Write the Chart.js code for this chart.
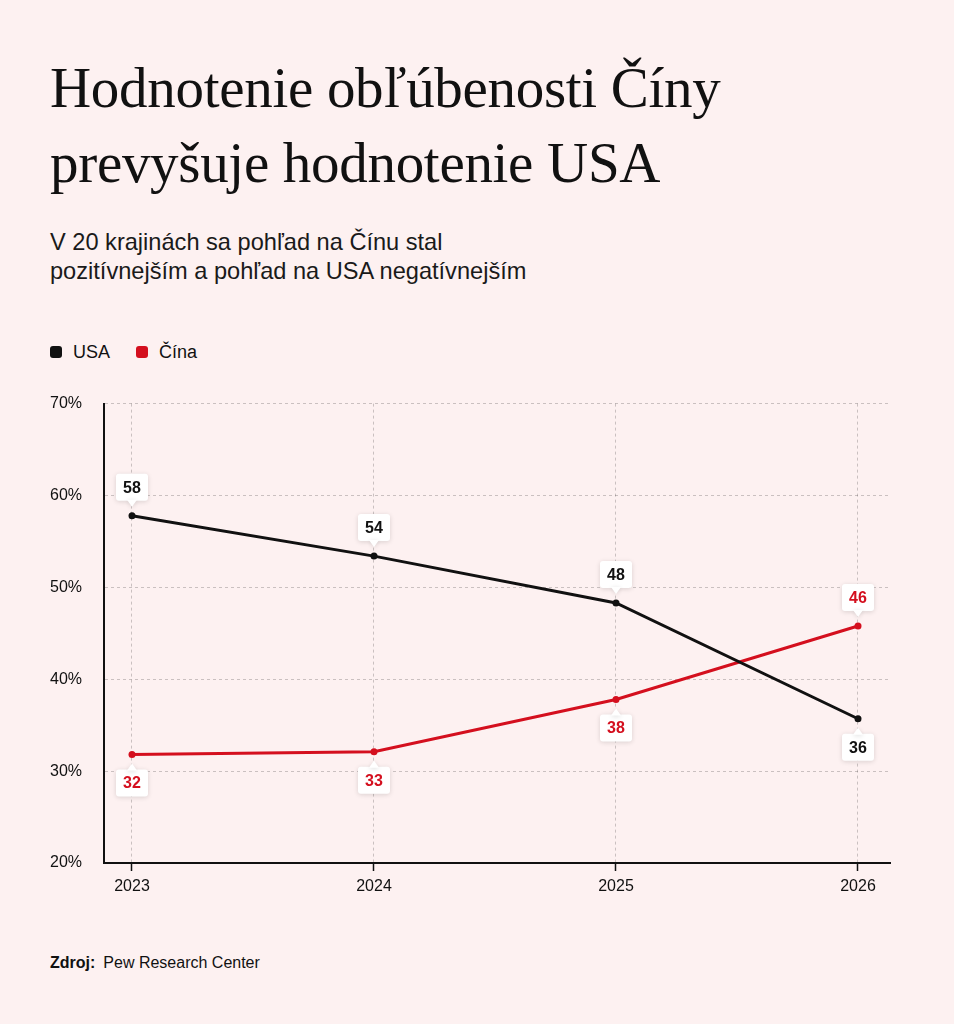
<!DOCTYPE html>
<html lang="sk">
<head>
<meta charset="utf-8">
<script src="https://cdn.jsdelivr.net/npm/chart.js@4.4.1/dist/chart.umd.min.js"></script>
<style>
  html, body { margin: 0; padding: 0; }
  body { width: 954px; height: 1024px; background: #fdf1f1; position: relative; overflow: hidden;
         font-family: "Liberation Sans", Arial, sans-serif; color: #111; }
  h1 { position: absolute; left: 50px; top: 50px; margin: 0; font-family: "Liberation Serif", "Times New Roman", serif;
       font-weight: normal; font-size: 57px; line-height: 75px; letter-spacing: -0.3px; color: #111; }
  .sub { position: absolute; left: 50px; top: 228px; margin: 0; font-size: 23.6px; line-height: 29px; color: #1a1a1a; }
  .legend { position: absolute; left: 50px; top: 340px; font-size: 18px; line-height: 24px; display: flex; }
  .legend span { display: flex; align-items: center; margin-right: 26px; }
  .legend i { width: 12px; height: 12px; border-radius: 3px; margin-right: 11px; display: inline-block; }
  .src { position: absolute; left: 50px; top: 953px; font-size: 16px; line-height: 20px; }
  .src b { margin-right: 8px; }
  #wrap { position: absolute; left: 0; top: 372px; width: 954px; height: 538px; }
</style>
</head>
<body>
<h1>Hodnotenie obľúbenosti Číny<br>prevyšuje hodnotenie USA</h1>
<p class="sub">V 20 krajinách sa pohľad na Čínu stal<br>pozitívnejším a pohľad na USA negatívnejším</p>
<div class="legend">
  <span><i style="background:#111"></i>USA</span>
  <span><i style="background:#d40f1e"></i>Čína</span>
</div>
<div id="wrap"><canvas id="chart" width="954" height="538"></canvas></div>
<div class="src"><b>Zdroj:</b>Pew Research Center</div>
<script>
const years = [2023, 2024, 2025, 2026];
const usaValues = [57.8, 53.4, 48.3, 35.7];
const chinaValues = [31.8, 32.1, 37.8, 45.8];
const usaLabels = ['58', '54', '48', '36'];
const chinaLabels = ['32', '33', '38', '46'];
const yTicks = [20, 30, 40, 50, 60, 70];

const BLACK = '#111111';
const RED = '#d40f1e';
const GRID = 'rgba(0,0,0,0.2)';

function roundRect(ctx, x, y, w, h, r) {
  ctx.beginPath();
  ctx.moveTo(x + r, y);
  ctx.lineTo(x + w - r, y);
  ctx.quadraticCurveTo(x + w, y, x + w, y + r);
  ctx.lineTo(x + w, y + h - r);
  ctx.quadraticCurveTo(x + w, y + h, x + w - r, y + h);
  ctx.lineTo(x + r, y + h);
  ctx.quadraticCurveTo(x, y + h, x, y + h - r);
  ctx.lineTo(x, y + r);
  ctx.quadraticCurveTo(x, y, x + r, y);
  ctx.closePath();
}

// white callout boxes with a small pointer toward the point
const calloutPlugin = {
  id: 'callouts',
  afterDatasetsDraw(chart) {
    const ctx = chart.ctx;
    const sets = chart.data.datasets;
    sets.forEach((ds, di) => {
      const meta = chart.getDatasetMeta(di);
      const other = sets[1 - di];
      meta.data.forEach((pt, i) => {
        const above = ds.data[i].y >= other.data[i].y;
        const w = 32, h = 27, gap = 9, tri = 6;
        const x = pt.x;
        let boxTop;
        ctx.save();
        ctx.shadowColor = 'rgba(0,0,0,0.14)';
        ctx.shadowBlur = 5;
        ctx.shadowOffsetY = 1;
        ctx.fillStyle = '#ffffff';
        if (above) {
          boxTop = pt.y - gap - tri - h;
          roundRect(ctx, x - w / 2, boxTop, w, h, 3);
          ctx.fill();
          ctx.beginPath();
          ctx.moveTo(x - 5, boxTop + h - 1);
          ctx.lineTo(x + 5, boxTop + h - 1);
          ctx.lineTo(x, pt.y - gap);
          ctx.closePath();
          ctx.fill();
        } else {
          boxTop = pt.y + gap + tri;
          roundRect(ctx, x - w / 2, boxTop, w, h, 3);
          ctx.fill();
          ctx.beginPath();
          ctx.moveTo(x - 5, boxTop + 1);
          ctx.lineTo(x + 5, boxTop + 1);
          ctx.lineTo(x, pt.y + gap);
          ctx.closePath();
          ctx.fill();
        }
        ctx.restore();
        ctx.save();
        ctx.fillStyle = ds.borderColor;
        ctx.font = 'bold 16px "Liberation Sans", Arial, sans-serif';
        ctx.textAlign = 'center';
        ctx.textBaseline = 'middle';
        ctx.fillText(ds.labelsText[i], x, boxTop + h / 2 + 1);
        ctx.restore();
      });
    });
  }
};

const ctx = document.getElementById('chart').getContext('2d');
new Chart(ctx, {
  type: 'line',
  data: {
    datasets: [
      {
        label: 'USA',
        data: years.map((yr, i) => ({ x: yr, y: usaValues[i] })),
        labelsText: usaLabels,
        borderColor: BLACK,
        backgroundColor: BLACK,
        borderWidth: 3,
        pointRadius: 3.5,
        pointBorderWidth: 0,
        pointBackgroundColor: BLACK,
        tension: 0
      },
      {
        label: 'Čína',
        data: years.map((yr, i) => ({ x: yr, y: chinaValues[i] })),
        labelsText: chinaLabels,
        borderColor: RED,
        backgroundColor: RED,
        borderWidth: 3,
        pointRadius: 3.5,
        pointBorderWidth: 0,
        pointBackgroundColor: RED,
        tension: 0
      }
    ]
  },
  options: {
    responsive: false,
    animation: false,
    layout: { padding: { top: 14, right: 64, left: 0, bottom: 0 } },
    plugins: { legend: { display: false }, tooltip: { enabled: false } },
    scales: {
      x: {
        type: 'linear',
        min: 2023 - 28 / 242,
        max: 2026 + 32 / 242,
        afterBuildTicks: (scale) => { scale.ticks = years.map(v => ({ value: v })); },
        afterFit: (scale) => { scale.height = 47; },
        grid: {
          color: GRID,
          tickBorderDash: [],
          tickColor: BLACK,
          tickLength: 8,
          tickWidth: 1.5,
          lineWidth: 1
        },
        border: { color: BLACK, width: 2, dash: [3, 3] },
        ticks: {
          color: '#111',
          padding: 6,
          maxRotation: 0,
          font: { family: '"Liberation Sans", Arial, sans-serif', size: 16 },
          callback: (v) => String(v)
        }
      },
      y: {
        min: 20,
        max: 70,
        afterBuildTicks: (scale) => { scale.ticks = yTicks.map(v => ({ value: v })); },
        afterFit: (scale) => { scale.width = 104; },
        grid: { color: GRID, drawTicks: false, lineWidth: 1 },
        border: { color: BLACK, width: 2, dash: [3, 3] },
        ticks: {
          color: '#111',
          padding: 22,
          font: { family: '"Liberation Sans", Arial, sans-serif', size: 16 },
          callback: (v) => v + '%'
        }
      }
    }
  },
  plugins: [calloutPlugin]
});
</script>
</body>
</html>
